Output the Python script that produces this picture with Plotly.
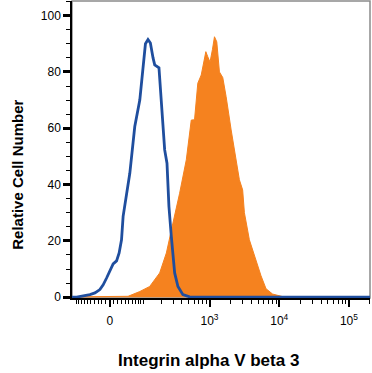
import numpy as np
import plotly.graph_objects as go

# Display-scale positions (biexponential display units: 0 -> "0", each decade = 1 unit above 10^3)
blue_x = [-0.543, -0.476, -0.286, -0.214, -0.143, -0.096, -0.047, 0.0, 0.047, 0.096, 0.133, 0.167,
          0.19, 0.286, 0.357, 0.429, 0.476, 0.51, 0.547, 0.581, 0.619, 0.643, 0.704, 0.739, 0.786,
          0.819, 0.847, 0.881, 0.929, 0.976, 1.047, 1.143, 2.0, 3.0, 3.73]
blue_y = [0, 0, 0.9, 1.5, 2.7, 4.4, 6.8, 9.2, 11.8, 12.9, 15.7, 20.4,
          28.7, 44, 60.6, 70, 83, 90, 91.5, 90.3, 85, 82.5, 81.5, 67.7, 52.3,
          47.6, 32.2, 21.6, 8.6, 3.8, 0.9, 0.1, 0, 0, 0]

orange_x = [-0.543, 0.0, 0.261, 0.429, 0.571, 0.714, 0.81, 0.904, 1.0, 1.096, 1.167, 1.214, 1.261,
            1.31, 1.376, 1.404, 1.436, 1.471, 1.5, 1.533, 1.571, 1.619, 1.667, 1.739, 1.81,
            1.857, 1.904, 1.929, 2.0, 2.096, 2.167, 2.239, 2.333, 2.476, 2.714, 3.73]
orange_y = [0.1, 0.1, 0.3, 2, 3.8, 8.6, 15.7, 26.3, 36.9, 48.8, 62.9, 63, 76,
            78.9, 87.2, 85.4, 83.5, 88, 92.5, 90.7, 80, 78, 71.2, 59.4, 48.8,
            41.7, 38.1, 30, 20.4, 12.7, 7.6, 3, 1.1, 0.2, 0.1, 0.1]

# Axis tick definitions (intensity values and labels)
major_vals = [0, 1e3, 1e4, 1e5]
major_text = ["0", "10<sup>3</sup>", "10<sup>4</sup>", "10<sup>5</sup>"]
minor_vals = ([-m * 10 for m in range(1, 11)] + [m * 10 for m in range(1, 10)] +
              [m * 100 for m in range(1, 10)] + [m * 1000 for m in range(2, 10)] +
              [m * 10000 for m in range(2, 10)] + [2e5])
x_title = "Integrin alpha V beta 3"
y_title = "Relative Cell Number"

C = 74.6


def disp(v):
    return float(np.arcsinh(np.asarray(v) / C) / np.log(10))


fig = go.Figure()
fig.add_trace(go.Scatter(x=orange_x, y=orange_y, mode="lines", fill="tozeroy",
                         line=dict(color="#F5821F", width=1), fillcolor="#F5821F",
                         hoverinfo="skip"))
fig.add_trace(go.Scatter(x=blue_x, y=blue_y, mode="lines",
                         line=dict(color="#1F4E9E", width=2.8), hoverinfo="skip"))

fig.add_shape(type="rect", xref="paper", yref="paper", x0=0, x1=1, y0=0, y1=1,
              line=dict(color="#8a8a8a", width=1.5), layer="below")

fig.add_annotation(text="<b>" + x_title + "</b>", xref="paper", yref="paper",
                   x=0.4565, y=-0.209, showarrow=False, xanchor="center", yanchor="middle",
                   font=dict(size=17, color="black"))
fig.add_annotation(text="<b>" + y_title + "</b>", xref="paper", yref="paper",
                   x=-0.1856, y=0.414, showarrow=False, xanchor="center", yanchor="middle",
                   textangle=-90, font=dict(size=15, color="black"))

fig.update_layout(
    width=372, height=373,
    margin=dict(l=72, r=2, t=1, b=75, autoexpand=False),
    paper_bgcolor="white", plot_bgcolor="white",
    showlegend=False,
    font=dict(family="Liberation Sans, Arial, sans-serif", color="black", size=12),
    xaxis=dict(
        automargin=False,
        range=[-0.543, 3.73], showgrid=False, zeroline=False,
        showline=True, linecolor="black", linewidth=1.5,
        tickmode="array", tickvals=[disp(v) for v in major_vals], ticktext=major_text,
        ticks="outside", ticklen=7, tickwidth=2, tickcolor="black",
        ticklabelstandoff=4,
        tickfont=dict(size=12),
        minor=dict(tickmode="array", tickvals=[disp(v) for v in minor_vals],
                   ticks="outside", ticklen=4, tickwidth=1, tickcolor="black"),
    ),
    yaxis=dict(
        automargin=False,
        range=[-0.3, 105.2], showgrid=False, zeroline=False,
        showline=True, linecolor="black", linewidth=1.5,
        tickvals=[0, 20, 40, 60, 80, 100],
        ticks="outside", ticklen=7, tickwidth=2.5, tickcolor="black",
        tickfont=dict(size=12),
        minor=dict(dtick=5, ticks="outside", ticklen=4, tickwidth=1, tickcolor="black"),
    ),
)

fig.write_html("out.html", config={"displayModeBar": False},
               post_script="document.body.style.margin='0px';")
